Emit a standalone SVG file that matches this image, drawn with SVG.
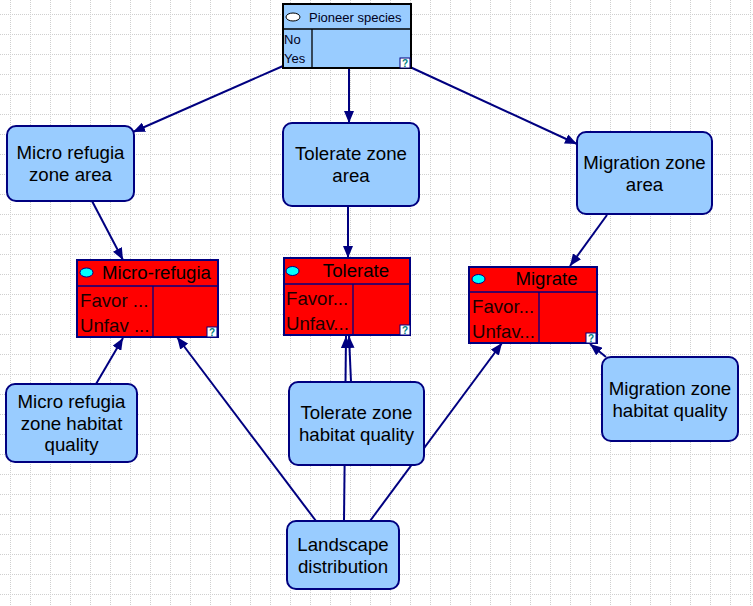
<svg xmlns="http://www.w3.org/2000/svg" width="753" height="606" viewBox="0 0 753 606">
<style>
.bg{fill:#ffffff}
.box{fill:#99ccff;stroke:#000080;stroke-width:2}
.red{fill:#ff0000;stroke:#000080;stroke-width:2}
.div{stroke:#000080;stroke-width:1.3;fill:none}
.t{font-family:"Liberation Sans",Arial,sans-serif;font-size:18.67px;fill:#000000;text-anchor:middle}
.tl{font-family:"Liberation Sans",Arial,sans-serif;font-size:18.67px;fill:#1a0000}
.th{font-family:"Liberation Sans",Arial,sans-serif;font-size:18.67px;fill:#000000;text-anchor:middle}
.ts{font-family:"Liberation Sans",Arial,sans-serif;font-size:13px;fill:#000020}
.q{fill:#ffffff;stroke:#000080;stroke-width:1}
.qt{font-family:"Liberation Sans",Arial,sans-serif;font-size:10px;font-weight:bold;fill:#008080;text-anchor:middle}
.cy{fill:#00ffff;stroke:#000080;stroke-width:1}
.edge{stroke:#000080;stroke-width:2;fill:none}
</style>
<defs>
<pattern id="grid" x="10" y="14" width="20" height="20" patternUnits="userSpaceOnUse">
<line x1="0.5" y1="0" x2="0.5" y2="20" stroke="#cfcfcf" stroke-width="1" stroke-dasharray="1 1"/>
<line x1="0" y1="0.5" x2="20" y2="0.5" stroke="#cfcfcf" stroke-width="1" stroke-dasharray="1 1"/>
</pattern>
<marker id="arr" viewBox="0 0 12 10" refX="12" refY="5" markerWidth="12" markerHeight="10" markerUnits="userSpaceOnUse" orient="auto">
<path d="M0,0 L12,5 L0,10 Z" fill="#000080"/>
</marker>
</defs>
<rect class="bg" x="0" y="0" width="753" height="606"/>
<rect x="0" y="0" width="753" height="606" fill="url(#grid)"/>

<g id="connectors">
<line class="edge" x1="283" y1="66" x2="133" y2="132" marker-end="url(#arr)"/>
<line class="edge" x1="349" y1="68" x2="349" y2="123" marker-end="url(#arr)"/>
<line class="edge" x1="410" y1="67" x2="577" y2="144" marker-end="url(#arr)"/>
<line class="edge" x1="92" y1="201" x2="123" y2="260" marker-end="url(#arr)"/>
<line class="edge" x1="348" y1="206" x2="348" y2="258" marker-end="url(#arr)"/>
<line class="edge" x1="607" y1="215" x2="570" y2="266" marker-end="url(#arr)"/>
<line class="edge" x1="96" y1="384" x2="123" y2="338" marker-end="url(#arr)"/>
<line class="edge" x1="351" y1="382" x2="349" y2="336" marker-end="url(#arr)"/>
<line class="edge" x1="344" y1="521" x2="346" y2="336" marker-end="url(#arr)"/>
<line class="edge" x1="606" y1="357" x2="590" y2="344" marker-end="url(#arr)"/>
<line class="edge" x1="316" y1="521" x2="177" y2="337" marker-end="url(#arr)"/>
<line class="edge" x1="370" y1="521" x2="502" y2="343" marker-end="url(#arr)"/>
</g>

<g id="pioneer">
<rect x="283" y="4" width="128" height="64" fill="#99ccff" stroke="#000000" stroke-width="2"/>
<line x1="283" y1="29" x2="411" y2="29" stroke="#000000" stroke-width="1.3"/>
<line x1="312" y1="29" x2="312" y2="68" stroke="#000000" stroke-width="1.3"/>
<ellipse cx="293" cy="17" rx="7" ry="4" fill="#ffffff" stroke="#000000" stroke-width="1"/>
<text class="ts" x="309" y="22">Pioneer species</text>
<text class="ts" x="284" y="44">No</text>
<text class="ts" x="284" y="63">Yes</text>
<rect class="q" x="400" y="58" width="10" height="10"/>
<text class="qt" x="405" y="66.5">?</text>
</g>

<g id="micro-area">
<rect class="box" x="7" y="126" width="127" height="75" rx="9"/>
<text class="t" x="70.5" y="159">Micro refugia</text>
<text class="t" x="70.5" y="181">zone area</text>
</g>

<g id="tolerate-area">
<rect class="box" x="283" y="123" width="136" height="83" rx="9"/>
<text class="t" x="351" y="160">Tolerate zone</text>
<text class="t" x="351" y="182">area</text>
</g>

<g id="migration-area">
<rect class="box" x="577" y="132" width="135" height="82" rx="9"/>
<text class="t" x="644.5" y="169">Migration zone</text>
<text class="t" x="644.5" y="191">area</text>
</g>

<g id="micro-refugia">
<rect class="red" x="77" y="260" width="141" height="77"/>
<line class="div" x1="77" y1="286" x2="218" y2="286"/>
<line class="div" x1="153" y1="286" x2="153" y2="337"/>
<ellipse class="cy" cx="86.5" cy="272.5" rx="6.5" ry="4.5"/>
<text class="th" x="156.5" y="279">Micro-refugia</text>
<text class="tl" x="80" y="307">Favor ...</text>
<text class="tl" x="80" y="332">Unfav ...</text>
<rect class="q" x="207" y="327" width="10" height="10"/>
<text class="qt" x="212" y="335.5">?</text>
</g>

<g id="tolerate">
<rect class="red" x="284" y="258" width="126" height="77"/>
<line class="div" x1="284" y1="284" x2="410" y2="284"/>
<line class="div" x1="353" y1="284" x2="353" y2="335"/>
<ellipse class="cy" cx="292.5" cy="271" rx="6.5" ry="4.5"/>
<text class="th" x="356" y="277">Tolerate</text>
<text class="tl" x="286" y="305">Favor...</text>
<text class="tl" x="286" y="330">Unfav...</text>
<rect class="q" x="400" y="325" width="10" height="10"/>
<text class="qt" x="405" y="333.5">?</text>
</g>

<g id="migrate">
<rect class="red" x="469" y="267" width="128" height="76"/>
<line class="div" x1="469" y1="292" x2="597" y2="292"/>
<line class="div" x1="539" y1="292" x2="539" y2="343"/>
<ellipse class="cy" cx="478.5" cy="279" rx="6.5" ry="4.5"/>
<text class="th" x="546.5" y="285">Migrate</text>
<text class="tl" x="472" y="313">Favor...</text>
<text class="tl" x="472" y="338">Unfav...</text>
<rect class="q" x="586" y="333" width="10" height="10"/>
<text class="qt" x="591" y="341.5">?</text>
</g>

<g id="micro-hq">
<rect class="box" x="6" y="384" width="131" height="78" rx="9"/>
<text class="t" x="71.5" y="408">Micro refugia</text>
<text class="t" x="71.5" y="429.5">zone habitat</text>
<text class="t" x="71.5" y="451">quality</text>
</g>

<g id="tolerate-hq">
<rect class="box" x="289" y="382" width="135" height="83" rx="9"/>
<text class="t" x="356.5" y="419">Tolerate zone</text>
<text class="t" x="356.5" y="441">habitat quality</text>
</g>

<g id="migration-hq">
<rect class="box" x="602" y="357" width="136" height="84" rx="9"/>
<text class="t" x="670" y="395">Migration zone</text>
<text class="t" x="670" y="417">habitat quality</text>
</g>

<g id="landscape">
<rect class="box" x="287" y="521" width="112" height="68" rx="9"/>
<text class="t" x="343" y="551">Landscape</text>
<text class="t" x="343" y="573">distribution</text>
</g>
</svg>
